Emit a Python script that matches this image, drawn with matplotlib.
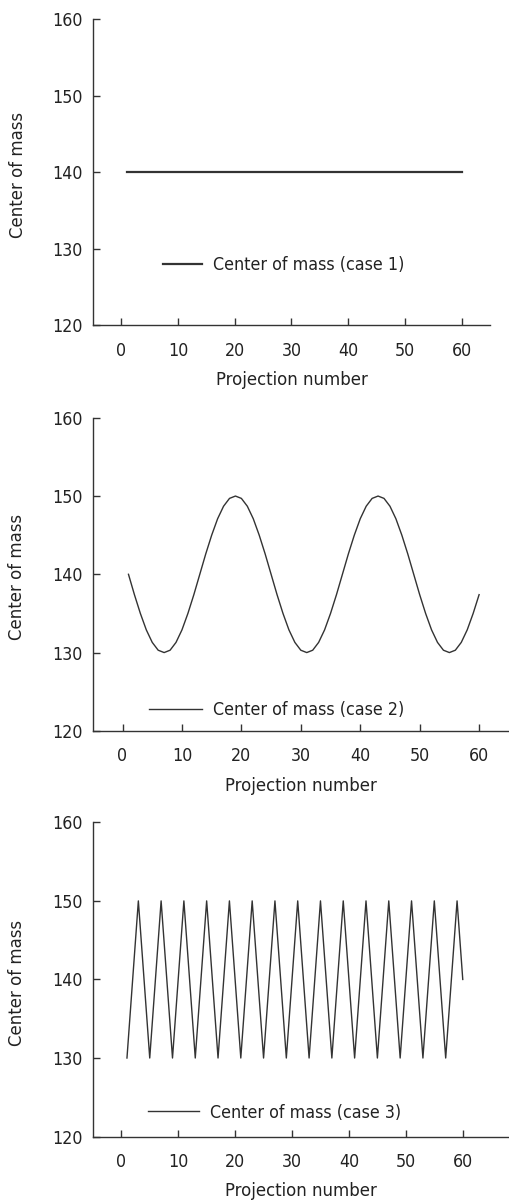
import matplotlib
matplotlib.use('Agg')
import matplotlib.pyplot as plt

plt.rcParams['font.family'] = ['DejaVu Sans']
plt.rcParams['font.stretch'] = 'condensed'

# projection numbers 1..60
projection = list(range(1, 61))

# case 1: constant centre of mass
case1 = [140.0] * 60

# case 2: smooth oscillation at each projection
case2 = [140.0, 137.4, 135.0, 132.9, 131.3, 130.3, 130.0, 130.3, 131.3, 132.9, 135.0, 137.4,
         140.0, 142.6, 145.0, 147.1, 148.7, 149.7, 150.0, 149.7, 148.7, 147.1, 145.0, 142.6,
         140.0, 137.4, 135.0, 132.9, 131.3, 130.3, 130.0, 130.3, 131.3, 132.9, 135.0, 137.4,
         140.0, 142.6, 145.0, 147.1, 148.7, 149.7, 150.0, 149.7, 148.7, 147.1, 145.0, 142.6,
         140.0, 137.4, 135.0, 132.9, 131.3, 130.3, 130.0, 130.3, 131.3, 132.9, 135.0, 137.4]

# case 3: zig-zag between 130 and 150
case3 = [130, 140, 150, 140] * 15

labels = ['Center of mass (case 1)', 'Center of mass (case 2)', 'Center of mass (case 3)']
series = [case1, case2, case3]

# axes boxes [left, bottom, width, height] in figure fraction
boxes = [[0.182, 0.730, 0.779, 0.254],
         [0.182, 0.393, 0.818, 0.260],
         [0.182, 0.056, 0.818, 0.261]]
xmaxs = [65.0, 65.2, 68.3]
widths = [1.6, 1.0, 1.0]
legend_pos = [(0.176, 0.196), (0.134, 0.067), (0.132, 0.076)]
handle_len = [2.2, 3.0, 2.85]
ylabel_x = [-0.166, -0.159, -0.159]

fig = plt.figure(figsize=(5.1, 12.04), dpi=100)
col = '#333333'
txt = '#222222'

for i in range(3):
    ax = fig.add_axes(boxes[i])
    ax.plot(projection, series[i], color=col, lw=widths[i], label=labels[i])
    ax.set_xlim(-5, xmaxs[i])
    ax.set_ylim(120, 160)
    ax.set_xticks([0, 10, 20, 30, 40, 50, 60])
    ax.set_yticks([120, 130, 140, 150, 160])
    ax.spines['top'].set_visible(False)
    ax.spines['right'].set_visible(False)
    for s in ['left', 'bottom']:
        ax.spines[s].set_color(col)
        ax.spines[s].set_linewidth(1.0)
    ax.tick_params(direction='in', length=5, width=1, color=col,
                   labelsize=12.8, labelcolor=txt)
    ax.tick_params(axis='x', pad=12)
    ax.tick_params(axis='y', pad=7)
    ax.set_xlabel('Projection number', fontsize=13.2, color=txt, labelpad=8)
    ax.set_ylabel('Center of mass', fontsize=13.2, color=txt)
    ax.yaxis.set_label_coords(ylabel_x[i], 0.49)
    ax.legend(loc='center left', bbox_to_anchor=legend_pos[i], frameon=False, borderpad=0,
              borderaxespad=0, fontsize=12.8, handlelength=handle_len[i], handletextpad=0.62,
              labelcolor=txt)

plt.savefig('out.png', dpi=100)
